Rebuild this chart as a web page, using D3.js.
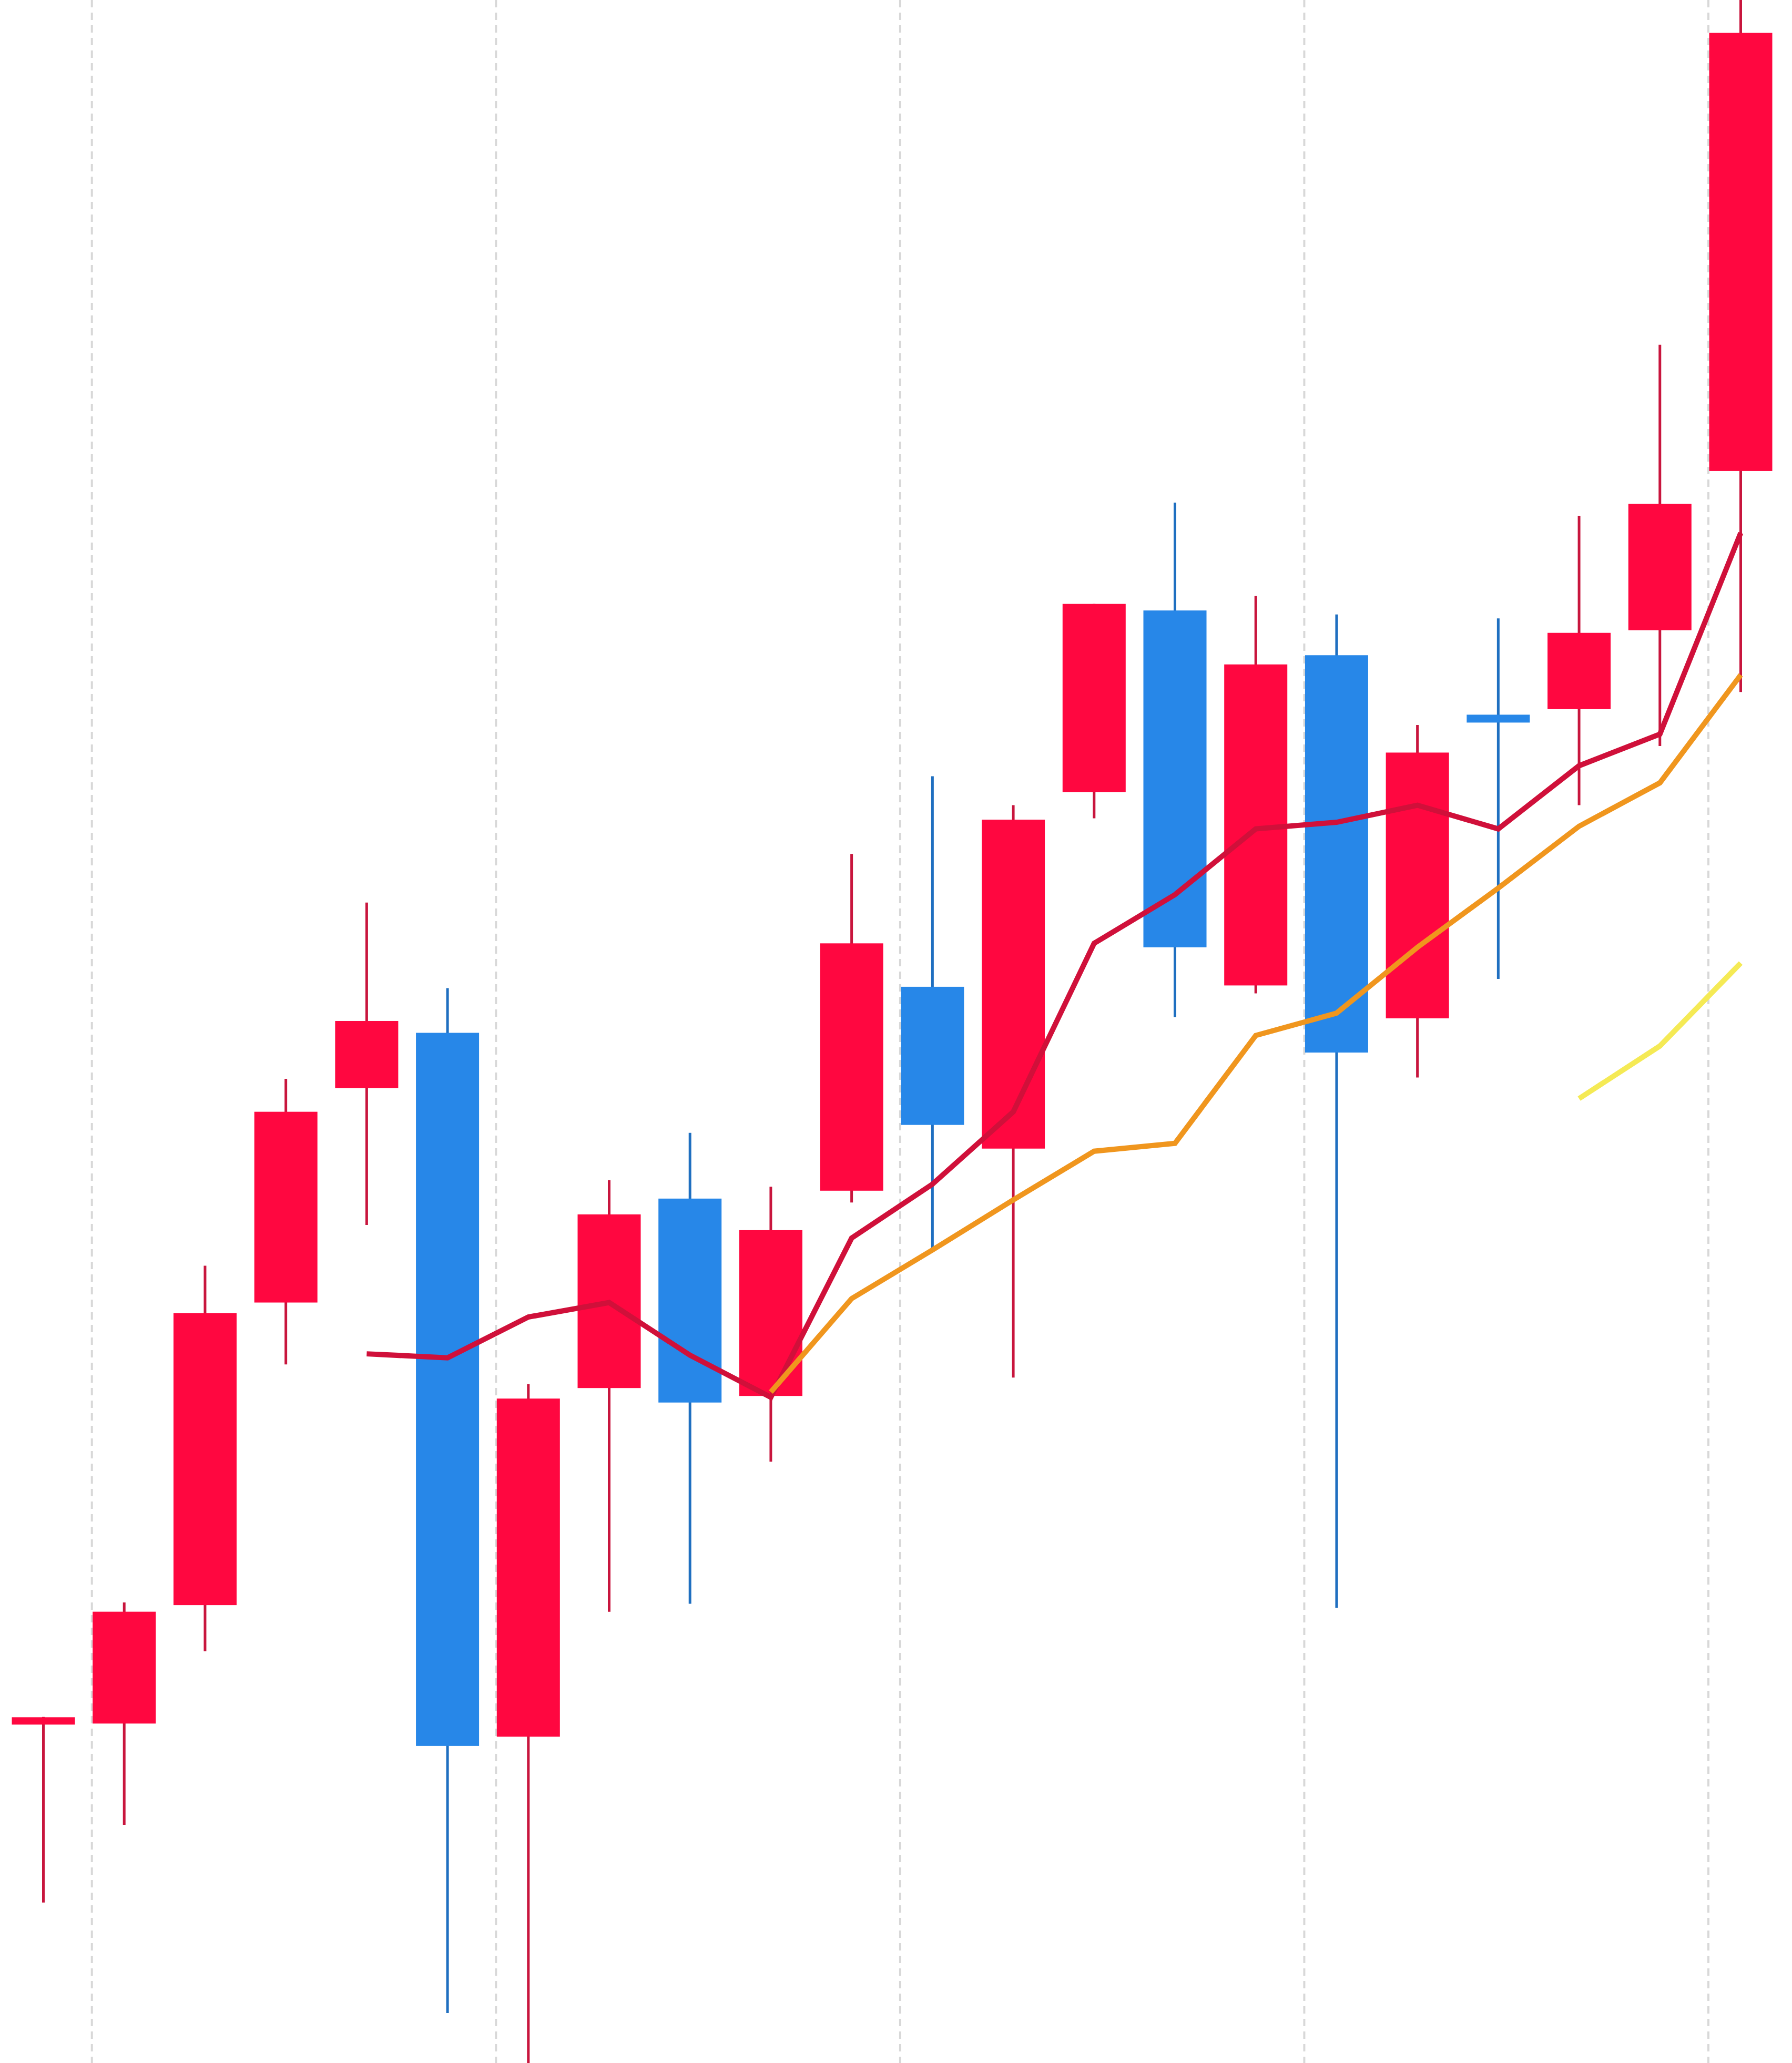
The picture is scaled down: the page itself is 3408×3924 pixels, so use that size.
<!DOCTYPE html>
<html><head><meta charset="utf-8">
<script src="https://cdn.jsdelivr.net/npm/d3@7"></script>
<style>body{margin:0;background:#fff}</style></head>
<body><svg id="c" width="3408" height="3924"></svg>
<script>
const opens  = [260,258,348,578,741,783,248,513,657,507,663,818,695,966,1104,819,1070,794,1022,1029,1089,1210];
const closes = [260,343,570,723,792,241,505,645,502,633,851,713,945,1109,848,1063,768,996,1016,1087,1185,1543];
const highs  = [263,350,606,748,882,817,516,671,707,666,919,978,956,1109,1186,1115,1101,1017,1098,1176,1306,1568];
const lows   = [122,181,313,531,637,38,0,343,349,457,654,617,521,946,795,813,346,749,824,956,1001,1042];
const ma1 = [null,null,null,null,539,536,567,578,538,506,627,668,723,851,888,938,943,956,938,986,1010,1163];
const ma2 = [null,null,null,null,null,null,null,null,null,510,581,618,656,693,699,781,798,848,893,940,973,1055];
const ma3 = [null,null,null,null,null,null,null,null,null,null,null,null,null,null,null,null,null,null,null,733,773,836];
const gridAt = [0.6,5.6,10.6,15.6,20.6];
const S = 3408/1363;
const svg = d3.select("#c");
const x = d3.scaleLinear().domain([0,21]).range([33*S,1324*S]);
const y = d3.scaleLinear().domain([0,1568]).range([3924,0]);
const bw = 48*S;
svg.selectAll(".g").data(gridAt).join("line").attr("x1",d=>x(d)).attr("x2",d=>x(d))
  .attr("y1",0).attr("y2",3924).attr("stroke","#d8d8d8").attr("stroke-width",4).attr("stroke-dasharray","14,10");
const idx = d3.range(opens.length);
const up = i => closes[i] >= opens[i];
svg.selectAll(".w").data(idx).join("line").attr("x1",i=>x(i)).attr("x2",i=>x(i))
  .attr("y1",i=>y(highs[i])).attr("y2",i=>y(lows[i]))
  .attr("stroke",i=>up(i)?"#c8153d":"#1f6fc0").attr("stroke-width",5);
svg.selectAll(".b").data(idx).join("rect").attr("x",i=>x(i)-bw/2).attr("width",bw)
  .attr("y",i=>y(Math.max(opens[i],closes[i]))-(Math.abs(opens[i]-closes[i])<8?7:0))
  .attr("height",i=>Math.max(Math.abs(y(opens[i])-y(closes[i])),Math.abs(opens[i]-closes[i])<8?14:0))
  .attr("fill",i=>up(i)?"#ff0740":"#2787e8");
const line = d3.line().defined(d=>d!=null).x((d,i)=>x(i)).y(d=>y(d));
[[ma1,"#d0103a"],[ma2,"#f0961e"],[ma3,"#f5ea55"]].forEach(([d,c])=>{
  svg.append("path").datum(d).attr("d",line).attr("fill","none").attr("stroke",c).attr("stroke-width",10);
});
</script></body></html>
